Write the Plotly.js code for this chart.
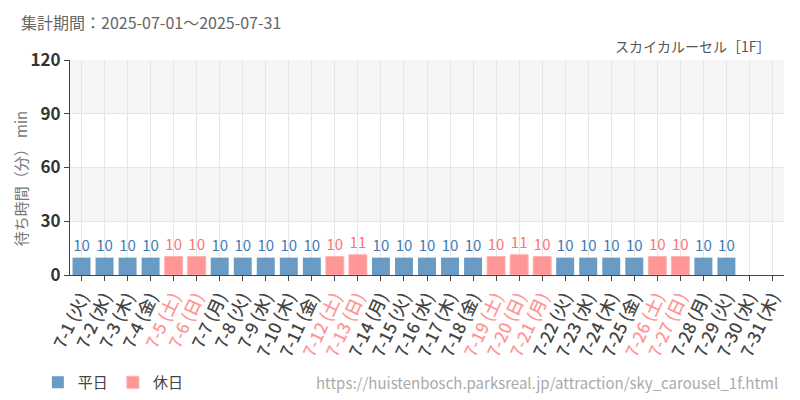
<!DOCTYPE html>
<html>
<head>
<meta charset="utf-8">
<script src="https://cdn.plot.ly/plotly-3.0.1.min.js"></script>
<style>
body{margin:0;background:#fff;}
#chart{width:800px;height:400px;}
</style>
</head>
<body>
<div id="chart"></div>
<script>
var days = ['7-1','7-2','7-3','7-4','7-5','7-6','7-7','7-8','7-9','7-10','7-11','7-12','7-13','7-14','7-15','7-16',
	'7-17','7-18','7-19','7-20','7-21','7-22','7-23','7-24','7-25','7-26','7-27','7-28','7-29','7-30','7-31'];
var weekdays = ['火','水','木','金','土','日','月','火','水','木','金','土','日','月','火','水',
	'木','金','土','日','月','火','水','木','金','土','日','月','火','水','木'];
var holiday = [0,0,0,0,1,1,0,0,0,0,0,1,1,0,0,0,0,0,1,1,1,0,0,0,0,1,1,0,0,0,0];
var waits = [9.7,9.7,9.7,9.7,10.3,10.3,9.7,9.7,9.7,9.7,9.7,10.3,11.3,9.7,9.7,9.7,
	9.7,9.7,10.3,11.3,10.3,9.7,9.7,9.7,9.7,10.3,10.3,9.7,9.7,null,null];
var labels = ['10','10','10','10','10','10','10','10','10','10','10','10','11','10','10','10',
	'10','10','10','11','10','10','10','10','10','10','10','10','10','',''];

var blue = '#6a9bc4', pink = '#ff9696';
var blueText = '#3f7bb3', pinkText = '#ff7373';

var wkY = [], wkT = [], hoY = [], hoT = [], tickText = [];
for (var i = 0; i < days.length; i++) {
	var isHol = holiday[i] == 1;
	wkY.push(isHol ? null : waits[i]);
	wkT.push(isHol ? '' : labels[i]);
	hoY.push(isHol ? waits[i] : null);
	hoT.push(isHol ? labels[i] : '');
	var t = days[i] + ' (' + weekdays[i] + ')';
	tickText.push(isHol ? '<span style="color:' + pink + '">' + t + '</span>' : t);
}

var font = '"Noto Sans CJK JP", "Noto Sans", sans-serif';

var data = [{
	type: 'bar', x: days, y: wkY, name: '平日',
	marker: {color: blue},
	text: wkT, textposition: 'outside', cliponaxis: false,
	textfont: {color: blueText, size: 15, family: font},
	width: 0.78, hoverinfo: 'none'
}, {
	type: 'bar', x: days, y: hoY, name: '休日',
	marker: {color: pink, line: {color: '#ffb0b0', width: 1}},
	text: hoT, textposition: 'outside', cliponaxis: false,
	textfont: {color: pinkText, size: 15, family: font},
	width: 0.78, hoverinfo: 'none'
}];

var layout = {
	width: 800, height: 400,
	margin: {l: 70, r: 16, t: 60, b: 125, autoexpand: false},
	barmode: 'overlay',
	font: {family: font, color: '#444'},
	paper_bgcolor: '#fff', plot_bgcolor: '#fff',
	xaxis: {
		type: 'category', tickmode: 'array', tickvals: days, ticktext: tickText,
		tickangle: -65, tickfont: {size: 17, color: '#444', weight: 500},
		showgrid: true, gridcolor: '#e6e6e6', automargin: false,
		showline: true, linecolor: '#444', linewidth: 1,
		ticks: 'outside', ticklen: 5, tickcolor: '#444',
		fixedrange: true
	},
	yaxis: {
		range: [0, 120], tickvals: [0, 30, 60, 90, 120],
		tickfont: {size: 17, color: '#333', weight: 600},
		showgrid: true, gridcolor: '#e6e6e6', zeroline: false, automargin: false,
		showline: true, linecolor: '#444', linewidth: 1,
		ticks: 'outside', ticklen: 5, tickcolor: '#444',
		fixedrange: true
	},
	shapes: [
		{type: 'rect', xref: 'paper', yref: 'y', x0: 0, x1: 1, y0: 90, y1: 120, fillcolor: '#f5f5f5', line: {width: 0}, layer: 'below'},
		{type: 'rect', xref: 'paper', yref: 'y', x0: 0, x1: 1, y0: 30, y1: 60, fillcolor: '#f5f5f5', line: {width: 0}, layer: 'below'}
	],
	showlegend: true,
	legend: {
		orientation: 'h', x: -0.045, xanchor: 'left', y: -0.5, yanchor: 'middle',
		font: {size: 15, color: '#444'}, itemwidth: 30, bgcolor: 'rgba(0,0,0,0)'
	},
	annotations: [
		{text: '集計期間：2025-07-01〜2025-07-31', xref: 'paper', yref: 'paper', x: -0.071, y: 1.177,
			xanchor: 'left', yanchor: 'middle', showarrow: false, font: {size: 16, color: '#666'}},
		{text: 'スカイカルーセル［1F］', xref: 'paper', yref: 'paper', x: 0.985, y: 1.065,
			xanchor: 'right', yanchor: 'middle', showarrow: false, font: {size: 14, color: '#555'}},
		{text: '待ち時間（分） min', xref: 'paper', yref: 'paper', x: -0.07, y: 0.45, textangle: -90,
			xanchor: 'center', yanchor: 'middle', showarrow: false, font: {size: 15, color: '#777'}},
		{text: 'https://huistenbosch.parksreal.jp/attraction/sky_carousel_1f.html', xref: 'paper', yref: 'paper',
			x: 0.995, y: -0.5, xanchor: 'right', yanchor: 'middle', showarrow: false, font: {size: 15, color: '#aaa'}}
	]
};

Plotly.newPlot('chart', data, layout, {displayModeBar: false, staticPlot: true});
</script>
</body>
</html>
